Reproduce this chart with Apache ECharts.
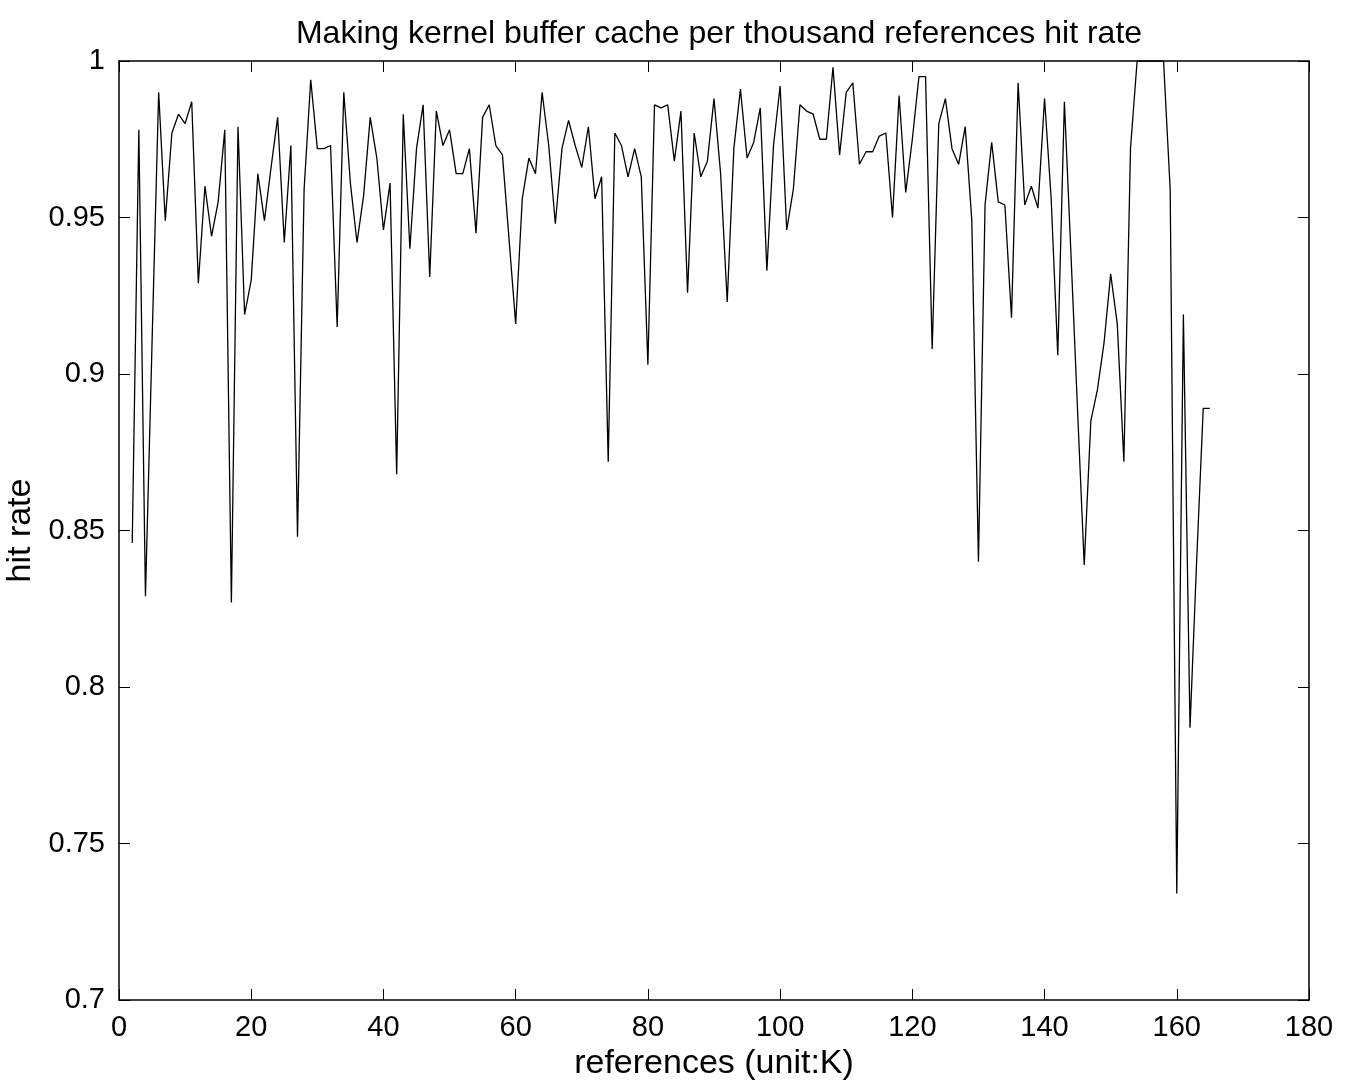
<!DOCTYPE html>
<html>
<head>
<meta charset="utf-8">
<script src="https://cdn.jsdelivr.net/npm/echarts@6/dist/echarts.min.js"></script>
<style>
html,body{margin:0;padding:0;background:#fff;}
#chart{width:1357px;height:1084px;}
</style>
</head>
<body>
<div id="chart"></div>
<script>
var titleText = "Making kernel buffer cache per thousand references hit rate";
var xAxisName = "references (unit:K)";
var yAxisName = "hit rate";

var references = [2,3,4,5,6,7,8,9,10,11,12,13,14,15,16,17,18,19,20,21,22,23,24,25,26,27,28,29,30,31,32,33,34,35,36,37,38,39,40,41,42,43,44,45,46,47,48,49,50,51,52,53,54,55,56,57,58,59,60,61,62,63,64,65,66,67,68,69,70,71,72,73,74,75,76,77,78,79,80,81,82,83,84,85,86,87,88,89,90,91,92,93,94,95,96,97,98,99,100,101,102,103,104,105,106,107,108,109,110,111,112,113,114,115,116,117,118,119,120,121,122,123,124,125,126,127,128,129,130,131,132,133,134,135,136,137,138,139,140,141,142,143,144,145,146,147,148,149,150,151,152,153,154,155,156,157,158,159,160,161,162,163,164,165];

var hitRate = [0.846,0.978,0.829,0.910,0.990,0.949,0.977,0.983,0.980,0.987,
0.929,0.960,0.944,0.955,0.978,0.827,0.979,0.919,0.930,0.964,
0.949,0.966,0.982,0.942,0.973,0.848,0.959,0.994,0.972,0.972,
0.973,0.915,0.990,0.961,0.942,0.957,0.982,0.969,0.946,0.961,
0.868,0.983,0.940,0.972,0.986,0.931,0.984,0.973,0.978,0.964,
0.964,0.972,0.945,0.982,0.986,0.973,0.970,0.943,0.916,0.956,
0.969,0.964,0.990,0.973,0.948,0.972,0.981,0.973,0.966,0.979,
0.956,0.963,0.872,0.977,0.973,0.963,0.972,0.963,0.903,0.986,
0.985,0.986,0.968,0.984,0.926,0.977,0.963,0.968,0.988,0.964,
0.923,0.972,0.991,0.969,0.974,0.985,0.933,0.973,0.992,0.946,
0.959,0.986,0.984,0.983,0.975,0.975,0.998,0.970,0.990,0.993,
0.967,0.971,0.971,0.976,0.977,0.950,0.989,0.958,0.975,0.995,
0.995,0.908,0.980,0.988,0.972,0.967,0.979,0.949,0.840,0.954,
0.974,0.955,0.954,0.918,0.993,0.954,0.960,0.953,0.988,0.956,
0.906,0.987,0.938,0.888,0.839,0.885,0.895,0.910,0.932,0.916,
0.872,0.972,1.000,1.000,1.000,1.000,1.000,0.959,0.734,0.919,
0.787,0.840,0.889,0.889];

var yTickLabels = {"0.7":"0.7","0.75":"0.75","0.8":"0.8","0.85":"0.85","0.9":"0.9","0.95":"0.95","1":"1"};

var seriesData = references.map(function(r, i){ return [r, hitRate[i]]; });

var FONT = "'Liberation Sans', Arial, Helvetica, sans-serif";
var TICK_FS = 29;
var NAME_FS = 34;
var TITLE_FS = 32;

var chart = echarts.init(document.getElementById('chart'), null, {renderer:'canvas'});

function axisLine(){ return {show:true, onZero:false, lineStyle:{color:'#000', width:1.5}}; }
function axisTick(){ return {show:true, inside:true, length:11, lineStyle:{color:'#000', width:1}}; }

chart.setOption({
  backgroundColor:'#fff',
  animation:false,
  title:{
    text: titleText,
    left: 714,
    textAlign: 'center',
    top: 13,
    textStyle:{fontFamily:FONT, fontSize:TITLE_FS, fontWeight:'normal', color:'#000'}
  },
  grid:{left:119, right:48, top:61, bottom:84, containLabel:false, outerBoundsMode:'none'},
  xAxis:[{
    type:'value', min:0, max:180, interval:20, position:'bottom',
    name: xAxisName, nameLocation:'middle', nameGap:44,
    nameTextStyle:{fontFamily:FONT, fontSize:NAME_FS, color:'#000'},
    axisLine: axisLine(), axisTick: axisTick(),
    axisLabel:{fontFamily:FONT, fontSize:TICK_FS, color:'#000', margin:13},
    splitLine:{show:false}
  },{
    type:'value', min:0, max:180, interval:20, position:'top',
    axisLine: axisLine(), axisTick: axisTick(),
    axisLabel:{show:false}, splitLine:{show:false}
  }],
  yAxis:[{
    type:'value', min:0.7, max:1, interval:0.05, position:'left',
    name: yAxisName, nameLocation:'middle', nameGap:72, nameRotate:90,
    nameTextStyle:{fontFamily:FONT, fontSize:NAME_FS, color:'#000'},
    axisLine: axisLine(), axisTick: axisTick(),
    axisLabel:{fontFamily:FONT, fontSize:TICK_FS, color:'#000', margin:14,
      formatter:function(v){ var k = String(+v.toFixed(2)); return yTickLabels[k] !== undefined ? yTickLabels[k] : k; }},
    splitLine:{show:false}
  },{
    type:'value', min:0.7, max:1, interval:0.05, position:'right',
    axisLine: axisLine(), axisTick: axisTick(),
    axisLabel:{show:false}, splitLine:{show:false}
  }],
  series:[{
    type:'line',
    data: seriesData,
    xAxisIndex:0, yAxisIndex:0,
    showSymbol:false, symbol:'none',
    lineStyle:{color:'#000', width:1.3},
    clip:true
  }]
});
</script>
</body>
</html>
